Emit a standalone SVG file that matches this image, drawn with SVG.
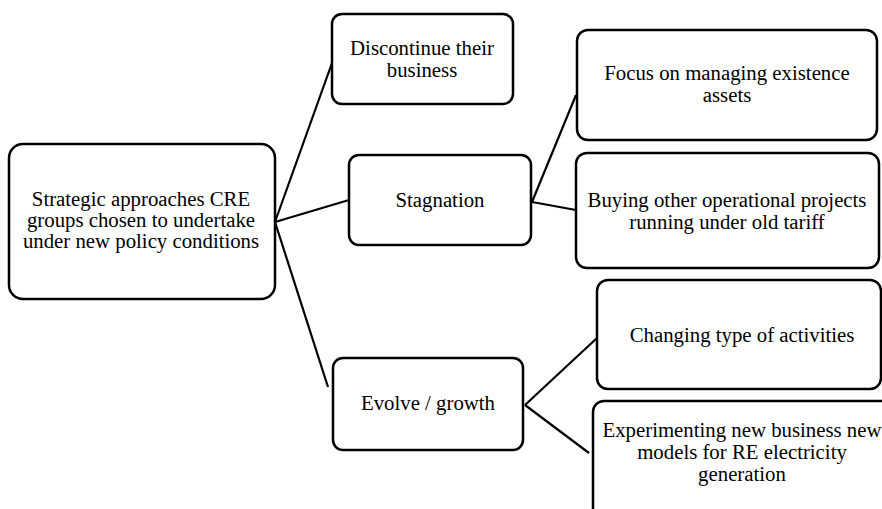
<svg xmlns="http://www.w3.org/2000/svg" width="882" height="509" viewBox="0 0 882 509">
<style>
.box{fill:#fff;stroke:#000;stroke-width:2.5}
.t{font-family:"Liberation Serif","Times New Roman",serif;font-size:20.8px;fill:#000;text-anchor:middle}
.c{stroke:#000;stroke-width:2.2;fill:none}
</style>
<rect width="882" height="509" fill="#fff"/>
<g id="connectors">
<line class="c" x1="275" y1="222" x2="332" y2="63"/>
<line class="c" x1="275" y1="222" x2="349" y2="200"/>
<line class="c" x1="275" y1="222" x2="328" y2="387"/>
<line class="c" x1="532" y1="202" x2="576" y2="95"/>
<line class="c" x1="532" y1="202" x2="576" y2="210"/>
<line class="c" x1="525" y1="405" x2="597" y2="338"/>
<line class="c" x1="525" y1="405" x2="589" y2="453"/>
</g>
<g id="root">
<rect class="box" x="9" y="144" width="266" height="155" rx="14"/>
<text class="t" x="141" y="205.5">Strategic approaches CRE</text>
<text class="t" x="141" y="226.5">groups chosen to undertake</text>
<text class="t" x="141" y="247.5">under new policy conditions</text>
</g>
<g id="discontinue">
<rect class="box" x="332" y="14" width="181" height="90" rx="10"/>
<text class="t" x="422" y="55">Discontinue their</text>
<text class="t" x="422" y="77">business</text>
</g>
<g id="stagnation">
<rect class="box" x="349" y="155" width="182" height="90" rx="10"/>
<text class="t" x="440" y="207">Stagnation</text>
</g>
<g id="focus">
<rect class="box" x="577" y="30" width="300" height="110" rx="11"/>
<text class="t" x="727" y="80">Focus on managing existence</text>
<text class="t" x="727" y="101.5">assets</text>
</g>
<g id="buying">
<rect class="box" x="576" y="153" width="303" height="115" rx="11"/>
<text class="t" x="727" y="207">Buying other operational projects</text>
<text class="t" x="727" y="228.5">running under old tariff</text>
</g>
<g id="evolve">
<rect class="box" x="333" y="358" width="190" height="92" rx="10"/>
<text class="t" x="428" y="410">Evolve / growth</text>
</g>
<g id="changing">
<rect class="box" x="597" y="280" width="284" height="109" rx="11"/>
<text class="t" x="742" y="342">Changing type of activities</text>
</g>
<g id="experimenting">
<rect class="box" x="593" y="401" width="300" height="120" rx="11"/>
<text class="t" x="742" y="437">Experimenting new business new</text>
<text class="t" x="742" y="459">models for RE electricity</text>
<text class="t" x="742" y="481">generation</text>
</g>
</svg>
